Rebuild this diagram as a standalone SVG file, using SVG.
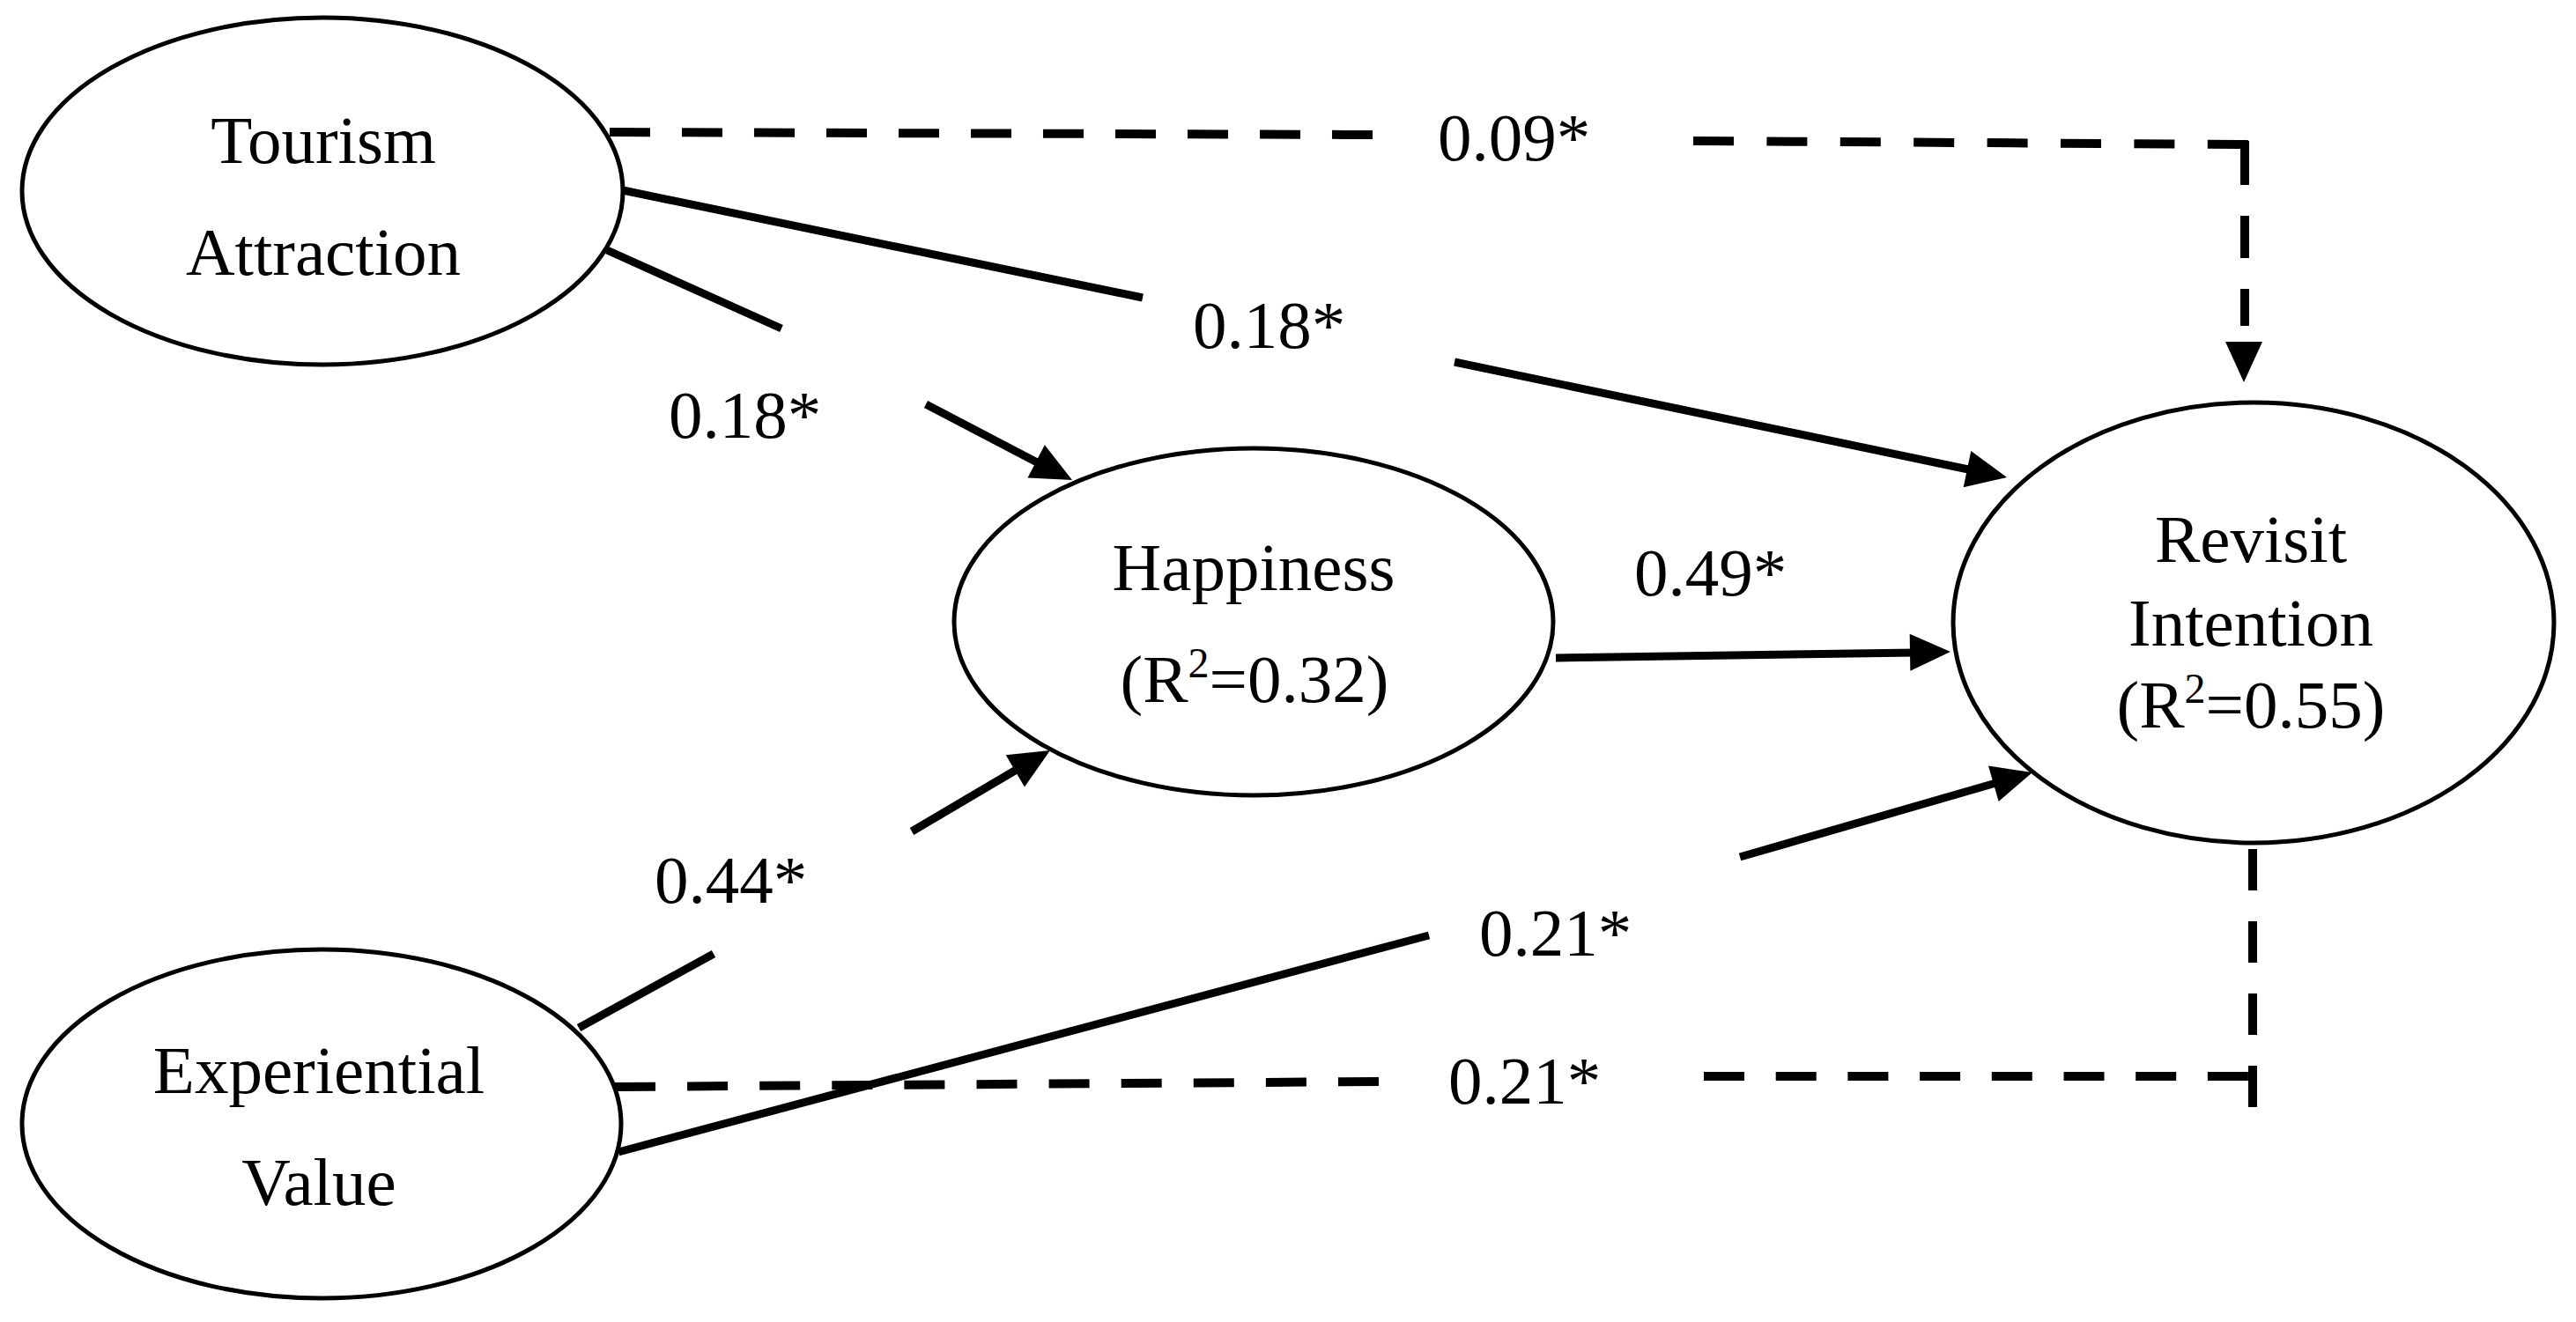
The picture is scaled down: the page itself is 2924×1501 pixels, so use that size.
<svg xmlns="http://www.w3.org/2000/svg" xmlns:xlink="http://www.w3.org/1999/xlink" width="2924" height="1501" viewBox="0 0 2924 1501">
<style>
.node{fill:#fff;stroke:#000;stroke-width:5}
.lbl{font-family:"Liberation Serif","Times New Roman",serif;font-size:77px;fill:#000}
.mid{text-anchor:middle}
.solid{fill:none;stroke:#000;stroke-width:9}
.dash{fill:none;stroke:#000;stroke-width:10}
.ah{fill:#000}
</style>
<defs>
<path id="ah" d="M0,0 L-46,-21 L-46,21 Z"/>
</defs>
<rect width="2924" height="1501" fill="#fff"/>

<g id="connectors">
  <!-- Tourism Attraction -> Revisit Intention (dashed, 0.09*) -->
  <path class="dash" d="M692,150 L1558,153" stroke-dasharray="46 36"/>
  <path class="dash" d="M1922,160 L2553,164" stroke-dasharray="46 37.4"/>
  <path class="dash" d="M2548,160 L2548,370" stroke-dasharray="50 35 48 35"/>
  <use href="#ah" class="ah" transform="translate(2547,434) rotate(90)"/>

  <!-- Tourism Attraction -> Revisit Intention (0.18*) -->
  <path class="solid" d="M707,216 L1297,338"/>
  <path class="solid" d="M1651,411 L2239,534"/>
  <use href="#ah" class="ah" transform="translate(2278,542) rotate(11.8)"/>

  <!-- Tourism Attraction -> Happiness (0.18*) -->
  <path class="solid" d="M689,284 L887,373"/>
  <path class="solid" d="M1051,459 L1181,527"/>
  <use href="#ah" class="ah" transform="translate(1217,545) rotate(27.4)"/>

  <!-- Happiness -> Revisit Intention (0.49*) -->
  <path class="solid" d="M1766,747 L2174,741"/>
  <use href="#ah" class="ah" transform="translate(2214,740) rotate(-0.9)"/>

  <!-- Experiential Value -> Happiness (0.44*) -->
  <path class="solid" d="M657,1167 L810,1083"/>
  <path class="solid" d="M1035,944 L1157,872"/>
  <use href="#ah" class="ah" transform="translate(1192,852) rotate(-30.4)"/>

  <!-- Experiential Value -> Revisit Intention (dashed, 0.21*) -->
  <path class="dash" d="M698,1234 L1565,1228" stroke-dasharray="46 36.1"/>
  <path class="dash" d="M1934,1222 L2552,1222" stroke-dasharray="46 35.7"/>
  <path class="dash" d="M2557,1257 L2557,910" stroke-dasharray="47 35"/>
  <use href="#ah" class="ah" transform="translate(2557,871) rotate(-90)"/>

  <!-- Experiential Value -> Revisit Intention (0.21*) -->
  <path class="solid" d="M702,1308 L1622,1062"/>
  <path class="solid" d="M1975,973 L2269,888"/>
  <use href="#ah" class="ah" transform="translate(2307,877) rotate(-16.1)"/>

  <!-- path labels -->
  <text class="lbl" x="1632" y="182">0.09*</text>
  <text class="lbl" x="1354" y="395">0.18*</text>
  <text class="lbl" x="759" y="497">0.18*</text>
  <text class="lbl" x="1855" y="676">0.49*</text>
  <text class="lbl" x="743" y="1025">0.44*</text>
  <text class="lbl" x="1679" y="1085">0.21*</text>
  <text class="lbl" x="1644" y="1253">0.21*</text>
</g>

<g id="tourism-attraction">
  <ellipse class="node" cx="366" cy="217" rx="341" ry="197"/>
  <text class="lbl mid" x="367" y="185">Tourism</text>
  <text class="lbl mid" x="367" y="312">Attraction</text>
</g>

<g id="experiential-value">
  <ellipse class="node" cx="365" cy="1276" rx="340" ry="198"/>
  <text class="lbl mid" x="362" y="1241">Experiential</text>
  <text class="lbl mid" x="362" y="1368">Value</text>
</g>

<g id="happiness">
  <ellipse class="node" cx="1423" cy="706" rx="340" ry="197"/>
  <text class="lbl mid" x="1423" y="670">Happiness</text>
  <text class="lbl mid" x="1424" y="797">(R<tspan font-size="48" dy="-28">2</tspan><tspan dy="28">=0.32)</tspan></text>
</g>

<g id="revisit-intention">
  <ellipse class="node" cx="2558" cy="707" rx="341" ry="250"/>
  <text class="lbl mid" x="2555" y="638">Revisit</text>
  <text class="lbl mid" x="2555" y="733">Intention</text>
  <text class="lbl mid" x="2555" y="826">(R<tspan font-size="48" dy="-28">2</tspan><tspan dy="28">=0.55)</tspan></text>
</g>
</svg>
